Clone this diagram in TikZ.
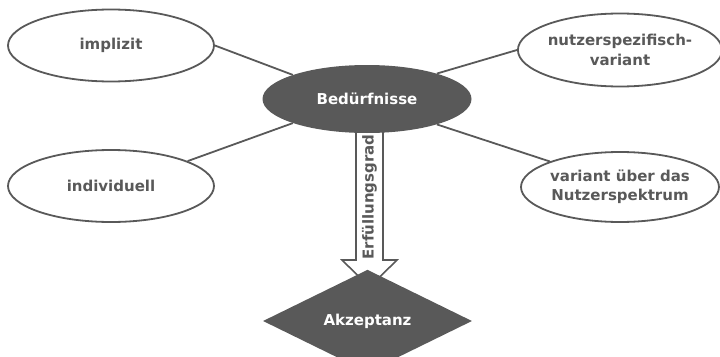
\documentclass[tikz,border=0pt]{standalone}
\usepackage{fontspec}
\setmainfont{DejaVu Sans}
\usetikzlibrary{shapes.geometric}
\definecolor{dgray}{RGB}{89,89,89}
\begin{document}
\begin{tikzpicture}[x=1pt,y=-1pt,
  every node/.style={font=\bfseries\fontsize{15}{19.5}\selectfont, text=dgray, align=center, inner sep=0pt},
  oval/.style={ellipse, draw=dgray, line width=1.8pt, fill=white, minimum width=206pt, minimum height=72pt},
  darkoval/.style={ellipse, fill=dgray, text=white, minimum width=209pt, minimum height=68pt},
  darkdiamond/.style={diamond, fill=dgray, text=white, minimum width=209pt, minimum height=69pt},
  link/.style={draw=dgray, line width=1.8pt}
]
\useasboundingbox (0,0) rectangle (720,356);
% arrow (drawn first, top hidden by ellipse)
\coordinate (tip) at (369.5,287);
\draw[draw=dgray, line width=1.6pt, fill=white, line join=miter]
  (356,120) -- (356,260) -- (342,260) -- (tip) -- (397,260) -- (383,260) -- (383,120) -- cycle;
\node (bed) [darkoval] at (367,99) {Bedürfnisse};
\node (impl) [oval] at (111,45.5) {implizit};
\node (indiv) [oval] at (111,186) {individuell};
\node (nutz) [oval, minimum width=198pt, minimum height=73pt] at (620,50) {nutzerspezifisch-\\variant};
\node (var) [oval, minimum width=198pt, minimum height=70pt] at (620,187) {variant über das\\Nutzerspektrum};
\node (akz) [darkdiamond] at (367.5,321) {Akzeptanz};
\node (erf) [rotate=90] at (369.5,197) {Erfüllungsgrad};
\draw[link] (impl.east) -- (bed.162);
\draw[link] (indiv.18) -- (bed.198);
\draw[link] (nutz.west) -- (bed.20);
\draw[link] (var.160) -- (bed.340);
\end{tikzpicture}
\end{document}
